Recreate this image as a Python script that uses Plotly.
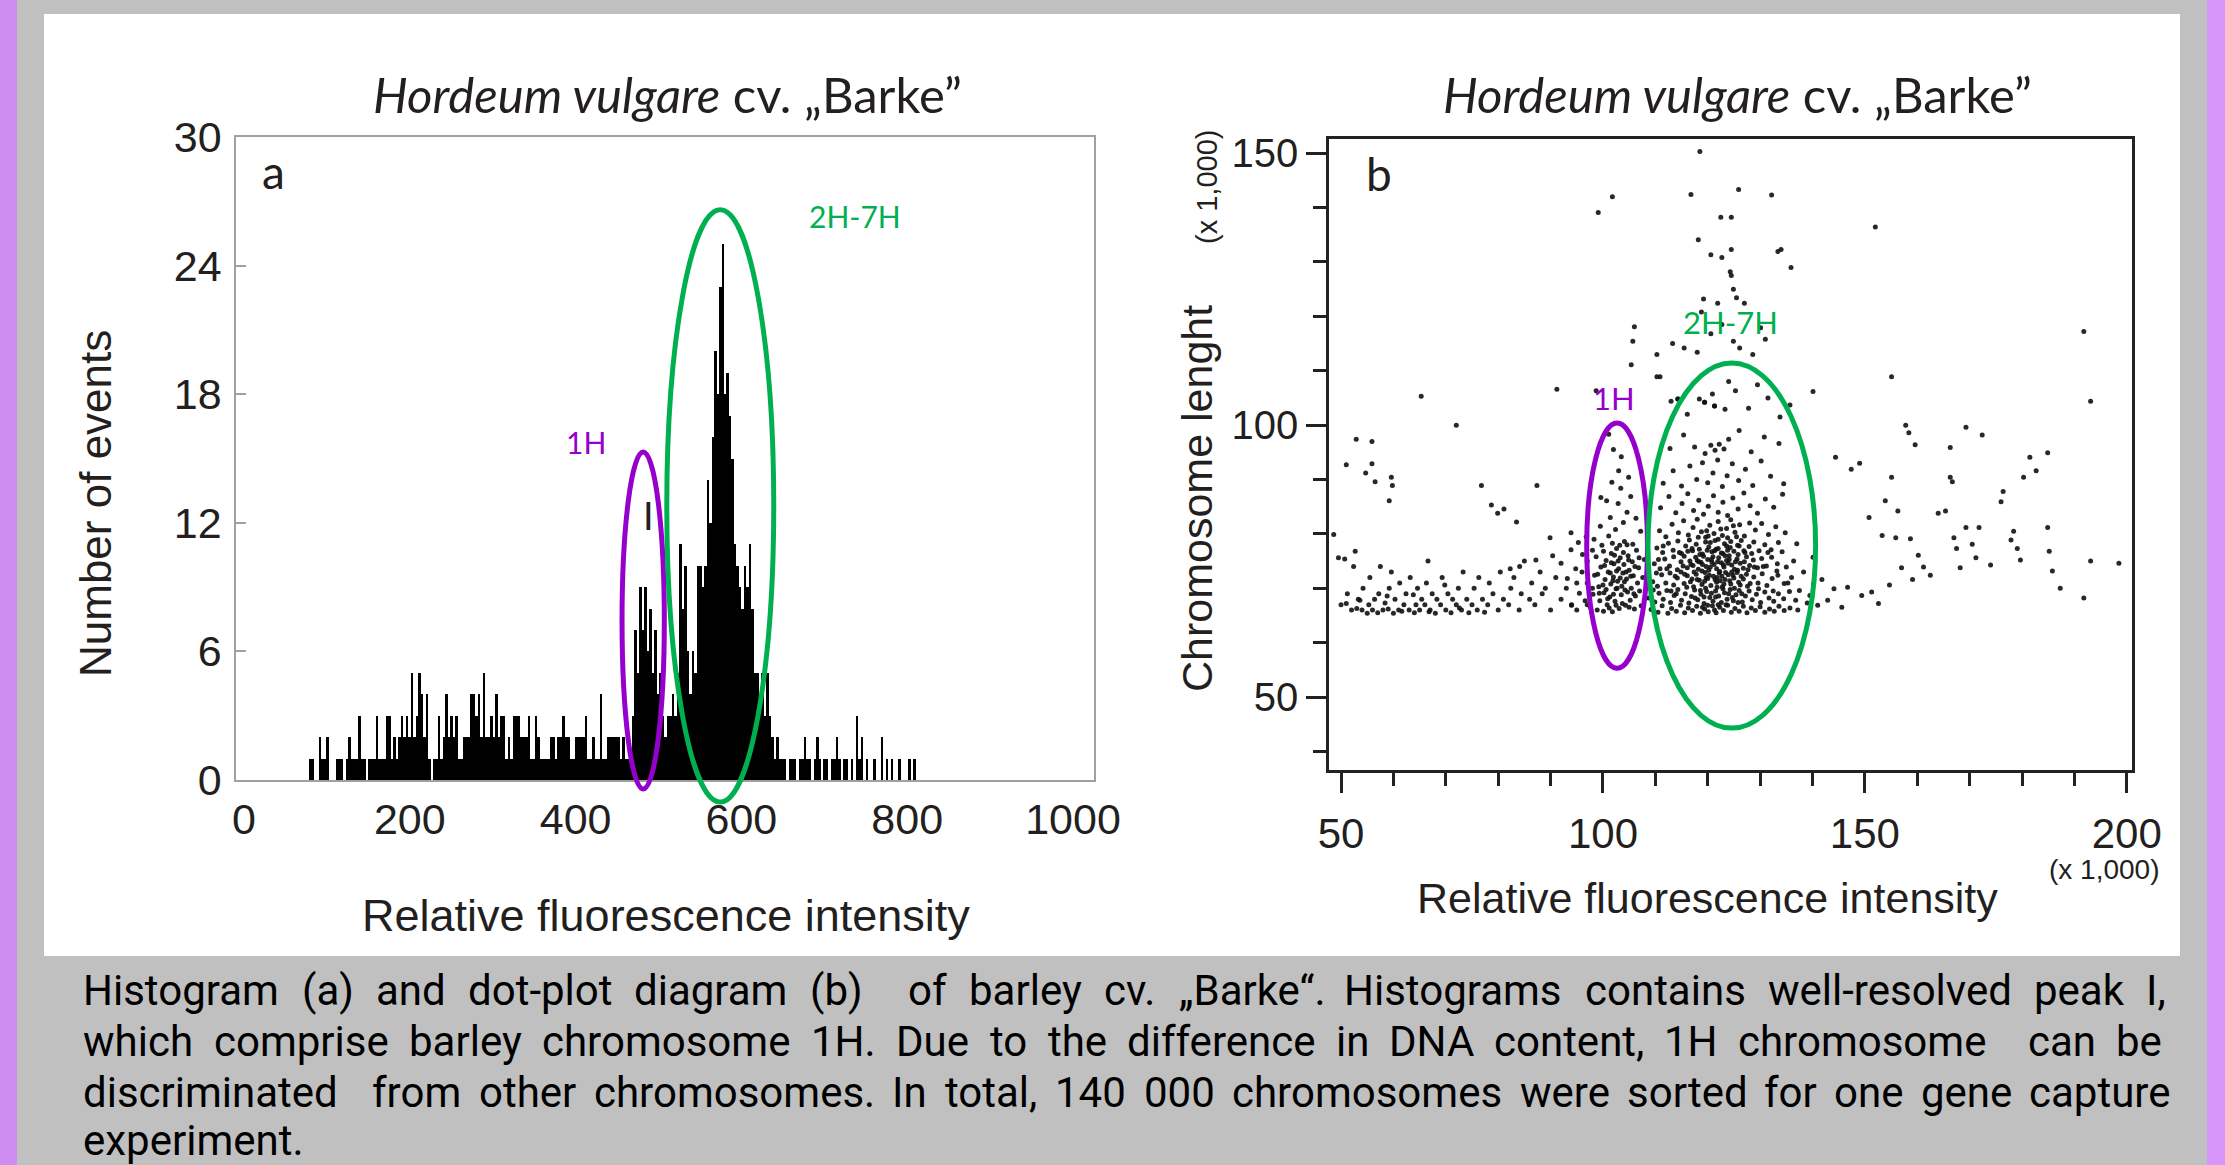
import plotly.graph_objects as go

W, H = 2225, 1165

# ---------------- Panel a: histogram (3-channel bins starting at 78) ----------------
hist_start = 78
hist_width = 3
hist_counts = [
    1, 1, 0, 0, 2, 1, 1, 2, 0, 0,
    0, 1, 1, 1, 0, 1, 2, 1, 1, 1,
    3, 1, 1, 0, 1, 1, 1, 3, 1, 1,
    1, 3, 3, 1, 2, 1, 2, 3, 2, 3,
    2, 5, 2, 3, 5, 4, 2, 4, 1, 0,
    1, 1, 3, 1, 2, 4, 2, 3, 2, 3,
    1, 1, 2, 2, 2, 4, 4, 3, 4, 2,
    5, 2, 2, 3, 2, 4, 2, 3, 3, 1,
    2, 1, 3, 3, 3, 2, 2, 2, 3, 1,
    1, 3, 2, 1, 1, 1, 1, 2, 2, 1,
    2, 2, 3, 2, 2, 1, 1, 2, 2, 2,
    2, 3, 1, 1, 2, 1, 1, 4, 1, 1,
    2, 2, 2, 2, 2, 1, 2, 1, 1, 1,
    3, 7, 5, 9, 7, 9, 6, 8, 5, 7,
    4, 5, 3, 2, 3, 3, 4, 3, 5, 11,
    8, 10, 6, 4, 6, 5, 10, 10, 9, 10,
    14, 12, 16, 20, 18, 23, 25, 18, 19, 17,
    15, 11, 10, 9, 8, 10, 9, 11, 8, 5,
    5, 4, 5, 3, 5, 3, 2, 1, 2, 1,
    1, 1, 0, 1, 1, 1, 0, 1, 1, 2,
    1, 1, 0, 1, 2, 1, 0, 1, 1, 0,
    1, 1, 2, 1, 0, 1, 1, 0, 1, 0,
    3, 1, 2, 0, 1, 0, 0, 1, 0, 0,
    2, 0, 1, 0, 1, 0, 0, 1, 0, 0,
    0, 1, 0, 1,
]
hist_xticks = [0, 200, 400, 600, 800, 1000]
hist_yticks = [0, 6, 12, 18, 24, 30]

# ---------------- Panel b: dot plot (x, y in thousands) ----------------
dots_left_band = [
    (49.5, 75.6), (50.7, 75.4), (52.7, 76.8), (48.6, 79.9), (50, 67), (51, 67.2), (51.2, 69), (52, 66),
    (52.4, 74), (53, 66.3), (53.3, 68), (54, 66), (54.2, 70), (55, 65.4), (55.3, 67), (55.5, 72),
    (56, 66), (56.4, 68), (57, 65.5), (57.2, 69), (57.5, 74), (58, 66), (58.4, 67.3), (59, 66.2),
    (59.2, 70), (59.6, 73), (60, 65.4), (60.3, 68), (61, 66), (61.2, 71), (62, 67), (62.4, 69),
    (63, 66), (63.2, 72), (64, 65.5), (64.3, 67), (64.6, 70), (65, 66), (65.4, 68), (66, 67),
    (66.3, 71), (66.6, 75), (67, 66), (67.4, 69), (68, 65.4), (68.3, 68), (69, 67), (69.3, 72),
    (70, 66), (70.4, 69), (71, 65.5), (71.3, 68), (72, 67), (72.4, 70), (73, 66), (73.3, 73),
    (74, 68), (74.4, 65.5), (75, 67), (75.4, 70), (76, 66), (76.3, 72), (77, 68), (77.4, 65.6),
    (78, 67), (78.3, 71), (79, 69), (80, 66), (80.4, 73), (81, 68), (82, 67), (82.4, 70),
    (83, 72), (84, 66), (84.4, 69), (85, 75), (86, 68), (86.4, 71), (87, 67), (88, 73),
    (88.4, 69), (89, 70), (90, 66), (90.4, 76), (91, 72), (92, 68), (92.0, 74.6), (93, 70),
    (93.2, 71.8), (94, 66.9), (94, 67), (94.8, 73.6), (95, 71), (95.5, 69.1), (95, 66), (96, 73),
    (96.1, 76.2), (96.6, 67.7), (97, 71.0), (97, 75), (97, 67), (95.3, 78.4), (98, 70), (98, 77),
    (53.6, 67.8), (58.8, 68.6), (61.6, 65.8), (63.8, 68.8), (66.8, 65.7), (69.8, 70.6), (72.6, 66.4),
]
dots_left_sparse = [
    (52.9, 97.4), (55.9, 97.0), (51.0, 92.7), (55.9, 92.9), (54.7, 91.2), (56.5, 89.6), (59.6, 90.4),
    (59.8, 88.9), (59.2, 86.1), (76.8, 88.9), (87.4, 88.9), (78.7, 85.3), (81.1, 84.6), (83.5, 82.2),
    (79.9, 83.8), (89.9, 79.3), (93.9, 77.1), (87.2, 75.2), (84.1, 74.0), (82.3, 73.6), (93.9, 80.2),
    (96.8, 79.5), (65.3, 105.3), (72.0, 100.0), (91.2, 106.6), (98.7, 106.3),
]
dots_1h = [
    (97.6, 66.5), (98.1, 68.9), (98.4, 72.4), (98.7, 75.8), (98.9, 66.0), (99.2, 70.3), (99.4, 67.7),
    (99.6, 73.9), (99.8, 77.9), (100.1, 65.8), (100.2, 69.2), (100.4, 71.6), (100.6, 75.1), (100.8, 67.0),
    (101.0, 73.0), (101.1, 79.6), (101.3, 68.4), (101.5, 70.8), (101.6, 76.4), (101.8, 65.7), (102.0, 72.1),
    (102.1, 74.5), (102.3, 67.6), (102.5, 69.9), (102.6, 77.3), (102.8, 71.3), (103.0, 73.6), (103.1, 66.3),
    (103.3, 75.6), (103.5, 68.8), (103.6, 70.4), (103.8, 72.8), (104.0, 74.4), (104.1, 78.6), (104.3, 66.9),
    (104.5, 71.7), (104.7, 69.3), (104.8, 76.0), (105.0, 73.3), (105.2, 67.8), (105.4, 70.0), (105.6, 74.9),
    (105.8, 72.3), (106.0, 66.2), (106.2, 68.6), (106.4, 77.0), (106.6, 71.0), (106.8, 73.8), (107.0, 69.5),
    (107.3, 66.8), (107.6, 72.0), (107.9, 75.3), (108.2, 68.2), (102.4, 80.8), (103.9, 82.1), (101.4, 83.0),
    (104.6, 84.0), (102.9, 85.6), (100.7, 86.1), (105.3, 86.9), (103.4, 88.4), (101.7, 89.5), (104.9, 90.4),
    (106.3, 82.9), (99.5, 81.4), (98.3, 79.0), (103.0, 91.6), (103.5, 94.2), (102.0, 95.5), (101.1, 98.3),
    (99.6, 86.7), (107.2, 80.5), (100.3, 74.2), (101.9, 71.4), (103.2, 77.9), (104.4, 73.0), (102.7, 70.0),
    (100.9, 68.1), (105.7, 78.1), (106.9, 75.6), (99.0, 72.6), (104.2, 69.7), (102.2, 76.1), (101.2, 66.4),
    (103.7, 67.2), (105.9, 69.0), (102.6, 73.2), (104.9, 75.2), (100.0, 70.6), (101.6, 74.7), (103.3, 71.9),
    (101.4, 72.8), (102.9, 75.0), (104.1, 71.2), (100.6, 69.8), (103.9, 76.6), (102.0, 68.9), (105.3, 72.2),
    (100.1, 76.8), (101.8, 78.3), (104.6, 78.0), (99.3, 69.1), (106.1, 74.0), (102.5, 66.9), (105.0, 66.5),
]
dots_main = [
    (109.2, 66.1), (110.5, 65.6), (111.3, 66.8), (112.4, 65.4), (113.1, 66.3), (114.0, 65.8), (114.8, 66.9),
    (115.6, 65.5), (116.3, 66.4), (117.1, 65.9), (117.9, 66.7), (118.6, 65.4), (119.4, 66.2), (120.1, 65.7),
    (120.9, 66.8), (121.6, 65.5), (122.3, 66.5), (123.0, 65.9), (123.8, 66.9), (124.5, 65.6), (125.2, 66.3),
    (126.0, 65.8), (126.8, 66.7), (127.5, 65.5), (128.3, 66.4), (129.1, 65.9), (130.0, 66.6), (130.9, 65.6),
    (131.8, 66.2), (132.7, 65.8), (133.6, 66.7), (134.6, 65.9), (135.7, 66.4), (137.2, 66.0),
    (108.8, 68.2), (109.9, 67.5), (110.7, 69.1), (111.5, 68.0), (112.2, 69.6), (112.9, 67.4), (113.6, 68.7),
    (114.3, 69.8), (115.0, 67.8), (115.7, 69.0), (116.4, 67.3), (116.9, 68.5), (117.5, 69.7), (118.1, 67.9),
    (118.7, 68.9), (119.3, 67.2), (119.8, 69.4), (120.4, 68.3), (121.0, 67.6), (121.5, 69.5), (122.1, 68.6),
    (122.6, 67.4), (123.2, 69.2), (123.7, 68.0), (124.3, 69.8), (124.9, 67.7), (125.4, 68.8), (126.0, 69.6),
    (126.6, 67.5), (127.2, 68.6), (127.9, 69.5), (128.5, 67.9), (129.3, 68.9), (130.1, 67.4), (130.9, 69.3),
    (131.7, 68.2), (132.6, 67.6), (133.5, 69.0), (134.5, 68.1), (135.6, 69.4), (136.8, 67.8),
    (109.5, 71.2), (110.4, 70.4), (111.2, 72.5), (112.0, 71.0), (112.8, 72.8), (113.5, 70.6), (114.2, 71.9),
    (114.9, 73.0), (115.5, 70.9), (116.1, 72.3), (116.7, 71.2), (117.3, 70.3), (117.8, 72.6), (118.4, 71.5),
    (118.9, 70.7), (119.5, 72.9), (120.0, 71.8), (120.6, 70.5), (121.1, 72.2), (121.7, 71.1), (122.2, 72.8),
    (122.8, 70.3), (123.3, 71.6), (123.9, 72.5), (124.4, 70.8), (125.0, 71.9), (125.6, 72.9), (126.2, 70.6),
    (126.8, 71.7), (127.4, 72.6), (128.1, 70.9), (128.8, 72.1), (129.6, 71.0), (130.4, 72.7), (131.3, 70.5),
    (132.3, 71.8), (133.4, 72.4), (134.6, 70.9), (136.0, 72.0),
    (109.8, 74.5), (110.9, 73.6), (111.8, 75.4), (112.7, 74.1), (113.5, 75.8), (114.2, 73.4), (114.9, 74.9),
    (115.5, 75.9), (116.1, 73.8), (116.6, 75.0), (117.2, 74.2), (117.7, 75.7), (118.2, 73.5), (118.7, 74.8),
    (119.2, 75.9), (119.7, 74.0), (120.2, 73.3), (120.7, 75.3), (121.2, 74.4), (121.7, 73.6), (122.1, 75.6),
    (122.6, 74.7), (123.1, 73.9), (123.6, 75.1), (124.1, 76.0), (124.6, 74.3), (125.1, 73.5), (125.6, 75.4),
    (126.2, 74.6), (126.8, 73.7), (127.4, 75.8), (128.0, 74.2), (128.7, 75.2), (129.5, 73.8), (130.3, 75.5),
    (131.2, 74.1), (132.2, 75.7), (133.3, 74.5), (135.0, 73.9),
    (110.3, 77.4), (111.4, 76.6), (112.5, 78.3), (113.4, 77.0), (114.3, 78.7), (115.0, 76.4), (115.8, 77.8),
    (116.5, 78.9), (117.1, 76.9), (117.8, 78.1), (118.4, 77.2), (119.0, 76.3), (119.6, 78.5), (120.2, 77.6),
    (120.8, 76.7), (121.4, 78.8), (122.0, 77.3), (122.6, 76.5), (123.2, 78.2), (123.8, 77.0), (124.4, 78.6),
    (125.0, 76.8), (125.7, 77.9), (126.4, 78.8), (127.1, 76.6), (127.9, 77.7), (128.8, 78.5), (129.8, 76.9),
    (130.9, 78.0), (132.1, 77.1), (133.5, 78.4),
    (110.8, 80.6), (112.0, 79.5), (113.2, 81.8), (114.4, 80.2), (115.4, 82.4), (116.3, 79.8), (117.2, 81.2),
    (118.0, 82.7), (118.8, 80.4), (119.6, 79.4), (120.4, 81.6), (121.2, 80.1), (122.0, 82.3), (122.8, 79.7),
    (123.6, 81.0), (124.4, 82.6), (125.2, 80.3), (126.1, 81.7), (127.0, 79.6), (128.0, 82.0), (129.1, 80.7),
    (130.3, 81.9), (131.6, 79.9), (133.0, 81.3), (134.8, 80.2),
    (111.0, 84.8), (112.6, 86.9), (113.9, 83.9), (115.1, 85.6), (116.2, 87.4), (117.3, 84.3), (118.3, 86.2),
    (119.2, 83.6), (120.1, 85.1), (121.1, 87.0), (122.0, 84.0), (122.9, 85.8), (123.8, 83.4), (124.8, 86.6),
    (125.8, 84.6), (126.9, 87.5), (128.1, 85.2), (129.5, 83.8), (131.0, 86.4), (132.6, 84.9), (134.3, 87.3),
    (111.5, 89.3), (113.4, 91.6), (115.0, 88.8), (116.6, 92.5), (117.9, 90.0), (119.0, 93.1), (120.0, 89.4),
    (121.0, 91.2), (121.9, 93.6), (122.8, 88.7), (123.7, 90.7), (124.7, 92.9), (125.9, 89.8), (127.2, 91.9),
    (128.6, 88.9), (130.2, 93.4), (132.0, 90.6), (134.5, 89.2),
    (112.8, 95.7), (115.4, 98.2), (117.5, 96.0), (119.5, 94.8), (120.6, 96.3), (121.4, 95.4), (122.2, 96.5),
    (123.1, 95.6), (124.0, 97.4), (126.0, 99.0), (128.3, 95.1), (130.8, 97.8), (133.6, 96.6),
    (113.0, 104.4), (116.1, 102.0), (118.4, 104.8), (119.4, 104.2), (120.9, 105.7), (121.3, 103.5),
    (123.3, 102.9), (124.0, 108.0), (125.3, 106.3), (127.8, 103.1), (129.5, 107.4), (131.5, 105.0),
    (133.8, 101.5), (135.7, 103.7), (110.3, 108.9), (114.3, 104.8),
]
dots_main_core = [
    (117.4, 73.0), (118.0, 71.6), (118.5, 76.2), (119.0, 74.4), (119.4, 71.3), (119.9, 77.0), (120.3, 72.4),
    (120.8, 74.8), (121.3, 76.9), (121.8, 72.0), (122.3, 73.1), (122.9, 76.4), (123.4, 72.9), (123.9, 74.6),
    (124.3, 77.5), (124.8, 72.4), (125.3, 74.9), (125.8, 76.2), (126.4, 72.2), (116.8, 74.4), (116.2, 76.8),
    (115.6, 72.6), (125.1, 70.0), (124.0, 69.0), (122.9, 69.9), (121.8, 70.2), (120.7, 69.1), (119.6, 70.0),
    (118.6, 69.6), (117.6, 68.2), (123.5, 67.0), (121.3, 66.0), (119.0, 66.5), (126.5, 69.0), (127.0, 74.9),
    (127.7, 73.4), (128.4, 76.4), (122.0, 79.0), (120.5, 78.4), (123.8, 79.3), (118.2, 79.4), (125.5, 79.5),
    (116.0, 70.2), (114.6, 76.6), (113.8, 72.2), (113.0, 69.5), (112.2, 73.6), (111.5, 77.8), (110.6, 75.3),
    (109.6, 69.7), (110.2, 72.8), (129.7, 69.9), (130.6, 74.0), (131.5, 76.6), (132.5, 69.5), (133.2, 73.2),
    (134.2, 76.7), (135.3, 71.0), (136.4, 75.0), (137.5, 69.6), (138.3, 73.0), (137.0, 78.2), (139.0, 67.3),
    (140.2, 70.8), (121.0, 75.8), (122.4, 71.4), (123.6, 77.8), (124.6, 73.0), (120.0, 75.3), (121.5, 68.4),
    (123.0, 74.3), (125.9, 71.1), (118.9, 73.2), (117.0, 77.3), (126.9, 76.9), (119.8, 80.6), (124.9, 81.5),
    (120.5, 73.9), (121.9, 74.9), (123.3, 76.0), (122.7, 72.2), (121.4, 71.6), (119.7, 72.0), (124.2, 71.4),
    (125.7, 73.3), (118.3, 74.9), (120.1, 79.6), (122.5, 80.9), (121.6, 77.2), (119.3, 68.4), (122.0, 67.0),
    (124.7, 68.3), (117.0, 71.7), (126.0, 77.8), (127.6, 70.4), (115.3, 74.1), (114.0, 69.0), (128.9, 73.9),
    (123.1, 70.8), (120.0, 66.9), (125.8, 67.4), (118.0, 75.1), (124.1, 75.3),
]
dots_right = [
    (139.5, 68.7), (140.1, 75.7), (141.0, 66.9), (141.8, 71.6), (142.9, 67.8), (144.1, 69.9), (144.4, 94.1),
    (145.6, 66.5), (146.7, 70.2), (147.4, 91.9), (149.0, 93.0), (149.4, 68.7), (150.8, 83.0), (151.3, 69.3),
    (152.6, 67.2), (153.3, 79.7), (153.9, 86.1), (154.7, 70.6), (155.1, 90.4), (155.1, 108.9), (155.9, 79.3),
    (156.3, 84.2), (157.0, 73.8), (157.8, 100.0), (158.4, 98.6), (158.7, 79.1), (159.1, 71.6), (159.6, 96.4),
    (160.2, 76.1), (161.2, 73.9), (162.5, 72.4), (164.0, 83.8), (165.4, 84.2), (166.3, 95.9), (166.3, 90.4),
    (166.7, 89.6), (167.0, 79.3), (167.5, 77.3), (168.2, 73.8), (169.3, 99.6), (169.3, 81.2), (170.5, 78.1),
    (171.2, 75.6), (171.8, 81.2), (172.4, 98.2), (174.0, 74.3), (176.0, 85.9), (176.4, 87.8), (177.9, 78.9),
    (178.4, 80.5), (179.1, 77.3), (179.7, 75.2), (180.3, 90.4), (181.5, 94.1), (182.7, 91.6), (184.9, 94.9),
    (184.9, 81.2), (185.2, 76.8), (185.8, 73.2), (187.3, 70.0), (191.8, 68.2), (193.1, 75.0), (198.5, 74.6),
    (193.1, 104.4), (191.8, 117.2),
]
dots_top = [
    (118.5, 150.3), (101.8, 142.0), (99.1, 139.1), (116.8, 142.4), (125.9, 143.3), (132.2, 142.3),
    (122.5, 138.2), (124.5, 138.2), (152.0, 136.4), (118.2, 134.1), (120.6, 131.3), (122.7, 130.8),
    (124.5, 132.3), (133.4, 131.9), (134.0, 132.3), (135.9, 129.0), (124.3, 128.2), (124.5, 127.5),
    (124.9, 125.0), (125.5, 123.4), (127.0, 122.4), (119.2, 123.2), (121.9, 122.4), (118.8, 120.8),
    (106.0, 118.1), (122.7, 118.5), (120.6, 116.8), (130.1, 117.9), (131.0, 115.8), (124.9, 115.4),
    (126.1, 114.2), (113.3, 115.0), (115.5, 114.2), (118.0, 113.4), (110.3, 113.0), (128.6, 113.0),
    (105.7, 115.4), (105.4, 111.1), (110.9, 108.9), (140.1, 106.2), (114.3, 104.8), (119.4, 104.2),
    (121.3, 103.5),
]

PURPLE = "#9600cd"
GREEN = "#00b050"
TXT = "#231f20"

all_dots = dots_left_band + dots_left_sparse + dots_1h + dots_main + dots_main_core + dots_right + dots_top

fig = go.Figure()
fig.add_trace(go.Bar(
    x=[hist_start + hist_width * (i + 0.5) for i in range(len(hist_counts))],
    y=hist_counts, width=hist_width,
    marker=dict(color="black", line=dict(width=0)),
    xaxis="x", yaxis="y", hoverinfo="skip"))
fig.add_trace(go.Scatter(
    x=[p[0] for p in all_dots], y=[p[1] for p in all_dots], mode="markers",
    marker=dict(size=5, color="#111111", opacity=0.9),
    xaxis="x2", yaxis="y2", hoverinfo="skip"))

# geometry (pixels)
A_L, A_R, A_T, A_B = 236, 1094, 137, 780
B_L, B_R, B_T, B_B = 1329, 2132, 139, 770
a_xr = [-9.65, 1025.3]
a_yr = [0, 30]
b_xr = [47.7, 201.0]
b_yr = [36.6, 152.6]

def px(x):
    return x / W

def py(y):
    return 1 - y / H

a_ydom = [py(A_B), py(A_T)]

def a_ypaper(v):
    return a_ydom[0] + (v - a_yr[0]) / (a_yr[1] - a_yr[0]) * (a_ydom[1] - a_ydom[0])

tickfont_a = dict(family="Liberation Sans, Arial", size=43, color=TXT)
tickfont_bx = dict(family="Liberation Sans, Arial", size=42, color=TXT)
tickfont_by = dict(family="Liberation Sans, Arial", size=40, color=TXT)

fig.update_layout(
    width=W, height=H, margin=dict(l=0, r=0, t=0, b=0, pad=0, autoexpand=False),
    paper_bgcolor="#c0c0c0", plot_bgcolor="rgba(0,0,0,0)",
    showlegend=False, bargap=0,
    xaxis=dict(domain=[px(A_L), px(A_R)], range=a_xr, anchor="y", automargin=False,
               showline=True, linecolor="#a0a0a0", linewidth=1.5, mirror=True,
               ticks="", tickvals=hist_xticks, tickfont=tickfont_a, ticklabelstandoff=1,
               showgrid=False, zeroline=False),
    yaxis=dict(domain=a_ydom, range=a_yr, anchor="x", automargin=False,
               showline=True, linecolor="#a0a0a0", linewidth=1.5, mirror=True,
               ticks="inside", ticklen=10, tickwidth=1.5, tickcolor="#a0a0a0",
               tickvals=hist_yticks, tickfont=tickfont_a, ticklabelstandoff=4,
               showgrid=False, zeroline=False),
    xaxis2=dict(domain=[px(B_L), px(B_R)], range=b_xr, anchor="y2", automargin=False,
                showline=True, linecolor="#222", linewidth=2.5, mirror=True,
                ticks="outside", ticklen=20, tickwidth=2.5, tickcolor="#222",
                tick0=50, dtick=50, tickfont=tickfont_bx, ticklabelstandoff=5,
                minor=dict(ticks="outside", ticklen=13, tickwidth=2.5, tickcolor="#222",
                           tick0=50, dtick=10, showgrid=False),
                showgrid=False, zeroline=False),
    yaxis2=dict(domain=[py(B_B), py(B_T)], range=b_yr, anchor="x2", automargin=False,
                showline=True, linecolor="#222", linewidth=2.5, mirror=True,
                ticks="outside", ticklen=20, tickwidth=2.5, tickcolor="#222",
                tick0=50, dtick=50, tickfont=tickfont_by, ticklabelstandoff=0,
                minor=dict(ticks="outside", ticklen=13, tickwidth=2.5, tickcolor="#222",
                           tick0=50, dtick=10, showgrid=False),
                showgrid=False, zeroline=False),
)

shapes = [
    dict(type="rect", xref="paper", yref="paper", x0=0, x1=px(17), y0=0, y1=1,
         fillcolor="#cc8cf0", line=dict(width=0), layer="below"),
    dict(type="rect", xref="paper", yref="paper", x0=px(2207), x1=1, y0=0, y1=1,
         fillcolor="#d896fa", line=dict(width=0), layer="below"),
    dict(type="rect", xref="paper", yref="paper", x0=px(44), x1=px(2180), y0=py(956), y1=py(14),
         fillcolor="white", line=dict(width=0), layer="below"),
    # panel a ellipses
    dict(type="circle", xref="x", yref="paper", x0=456, x1=507, y0=a_ypaper(-0.42), y1=a_ypaper(15.3),
         line=dict(color=PURPLE, width=5)),
    dict(type="circle", xref="x", yref="paper", x0=510, x1=639, y0=a_ypaper(-1.03), y1=a_ypaper(26.6),
         line=dict(color=GREEN, width=5)),
    # panel b ellipses
    dict(type="circle", xref="x2", yref="y2", x0=96.9, x1=108.5, y0=55.3, y1=100.4,
         line=dict(color=PURPLE, width=5)),
    dict(type="circle", xref="x2", yref="y2", x0=108.6, x1=140.6, y0=44.3, y1=111.4,
         line=dict(color=GREEN, width=5)),
]
fig.update_layout(shapes=shapes)

LATO = "Lato, Open Sans, sans-serif"
ARIAL = "Liberation Sans, Arial"
CAP = "Roboto, sans-serif"

def ann(text, x, y, size, color=TXT, family=LATO, angle=0, xanchor="center", yanchor="middle"):
    return dict(text=text, x=px(x), y=py(y), xref="paper", yref="paper", showarrow=False,
                font=dict(family=family, size=size, color=color), textangle=angle,
                xanchor=xanchor, yanchor=yanchor)

title = "<i>Hordeum vulgare</i> cv. „Barke”"
anns = [
    ann(title, 667, 94, 49),
    ann(title, 1737, 94, 49),
    ann("a", 273, 172, 46),
    ann("b", 1379, 174, 46),
    ann("1H", 586, 442, 30, PURPLE),
    ann("2H-7H", 855, 216, 30, GREEN),
    ann("I", 648, 515, 38),
    ann("1H", 1614, 398, 31, PURPLE),
    ann("2H-7H", 1730, 322, 31, GREEN),
    ann("Number of events", 95, 504, 44, family=ARIAL, angle=-90),
    ann("Relative fluorescence intensity", 666, 915, 45, family=ARIAL),
    ann("Chromosome lenght", 1197, 499, 43, family=ARIAL, angle=-90),
    ann("(x 1,000)", 1207, 187, 29, family=ARIAL, angle=-90),
    ann("Relative fluorescence intensity", 1707, 898, 43, family=ARIAL),
    ann("(x 1,000)", 2104, 869, 28, family=ARIAL),
]

# caption: justified text emulated by placing each word at its left edge (pixels)
caption_words = [
    [("Histogram", 81), ("(a)", 300), ("and", 374), ("dot-plot", 466), ("diagram", 632), ("(b)", 808),
     ("of", 906), ("barley", 967), ("cv.", 1102), ("„Barke“.", 1177), ("Histograms", 1342),
     ("contains", 1583), ("well-resolved", 1766), ("peak", 2032), ("I,", 2144)],
    [("which", 81), ("comprise", 212), ("barley", 407), ("chromosome", 540), ("1H.", 809), ("Due", 894),
     ("to", 988), ("the", 1046), ("difference", 1125), ("in", 1334), ("DNA", 1387), ("content,", 1492),
     ("1H", 1662), ("chromosome", 1736), ("can", 2026), ("be", 2114)],
    [("discriminated", 81), ("from", 370), ("other", 477), ("chromosomes.", 592), ("In", 890),
     ("total,", 943), ("140", 1053), ("000", 1142), ("chromosomes", 1230), ("were", 1518),
     ("sorted", 1625), ("for", 1762), ("one", 1832), ("gene", 1919), ("capture", 2027)],
    [("experiment.", 81)],
]
cap_y = [990, 1041, 1092, 1140]
for words, yy in zip(caption_words, cap_y):
    for w, xx in words:
        anns.append(ann(w, xx, yy, 42, color="black", family=CAP, xanchor="left"))

fig.update_layout(annotations=anns)

fig.write_html("out.html", config={"displayModeBar": False},
               post_script="document.body.style.margin='0px';document.body.style.overflow='hidden';")
